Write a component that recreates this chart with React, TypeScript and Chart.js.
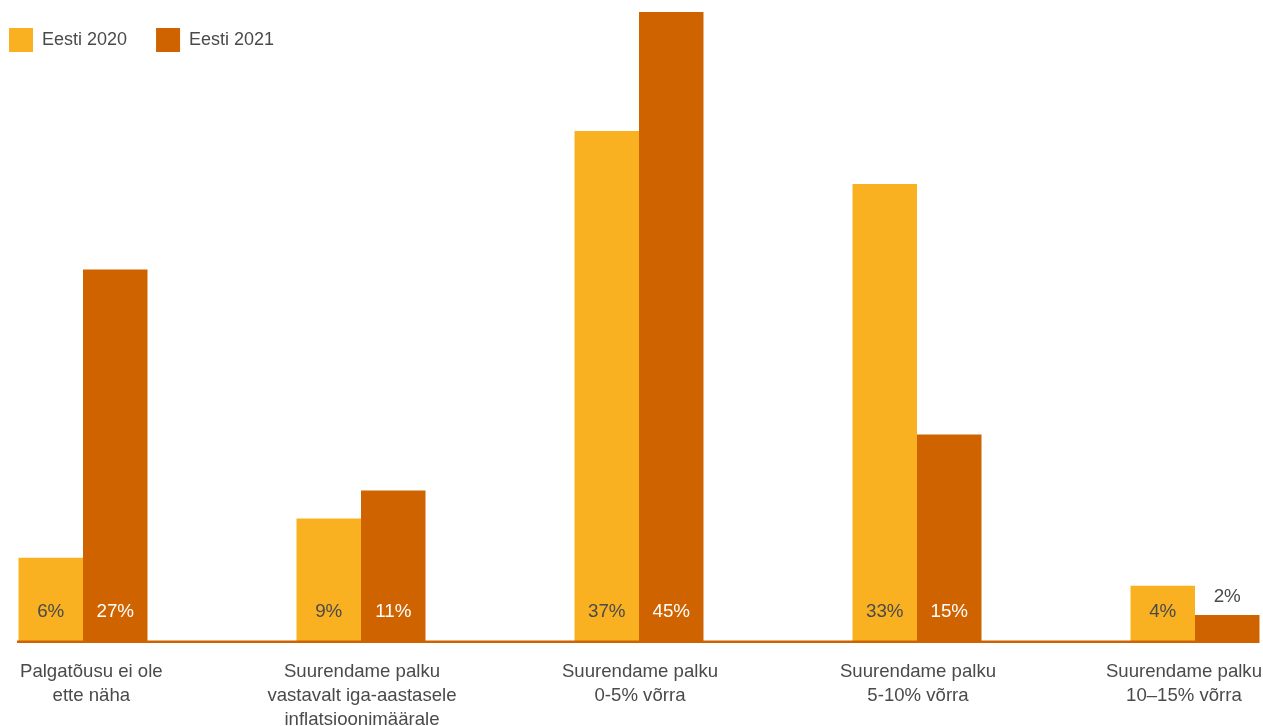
import React, { useEffect, useRef } from "react";
import { Chart, registerables } from "chart.js";

Chart.register(...registerables);

const categories: string[][] = [
  ["Palgatõusu ei ole", "ette näha"],
  ["Suurendame palku", "vastavalt iga-aastasele", "inflatsioonimäärale"],
  ["Suurendame palku", "0-5% võrra"],
  ["Suurendame palku", "5-10% võrra"],
  ["Suurendame palku", "10–15% võrra"],
];
const seriesNames = ["Eesti 2020", "Eesti 2021"];
const values2020 = [6.1, 8.9, 36.6, 32.8, 4.1];
const values2021 = [26.7, 10.9, 45.1, 14.9, 2.0];
const colors = ["#F9B122", "#CF6300"];
const labelColors = ["#4A4A4A", "#FFFFFF"];

const FONT = '"Liberation Sans", Arial, Helvetica, sans-serif';
const TEXT = "#4A4A4A";

const overlayPlugin = {
  id: "overlay",
  afterDatasetsDraw(chart: any) {
    const ctx = chart.ctx;
    const y = chart.scales.y;
    const x = chart.scales.x;
    const zero = y.getPixelForValue(0);
    ctx.save();
    // baseline
    ctx.strokeStyle = colors[1];
    ctx.lineWidth = 2.5;
    ctx.beginPath();
    ctx.moveTo(17, zero - 1.25);
    ctx.lineTo(1259, zero - 1.25);
    ctx.stroke();

    // value labels
    ctx.font = `18.8px ${FONT}`;
    ctx.textAlign = "center";
    ctx.textBaseline = "alphabetic";
    chart.data.datasets.forEach((ds: any, di: number) => {
      const meta = chart.getDatasetMeta(di);
      meta.data.forEach((bar: any, i: number) => {
        const v = ds.data[i];
        const txt = Math.round(v) + "%";
        const h = zero - bar.y;
        if (h > 45) {
          ctx.fillStyle = labelColors[di];
          ctx.fillText(txt, bar.x, zero - 26);
        } else {
          ctx.fillStyle = TEXT;
          ctx.fillText(txt, bar.x, bar.y - 13);
        }
      });
    });

    // category labels
    ctx.font = `18.6px ${FONT}`;
    ctx.fillStyle = TEXT;
    categories.forEach((lines, i) => {
      const px = x.getPixelForValue(i);
      const maxW = Math.max(...lines.map((l) => ctx.measureText(l).width));
      const cx = Math.min(Math.max(px + 1, 20 + maxW / 2), 1262 - maxW / 2);
      lines.forEach((l, li) => {
        ctx.fillText(l, cx, zero + 34 + li * 24);
      });
    });

    // legend
    ctx.font = `18px ${FONT}`;
    let lx = 9;
    ctx.textAlign = "left";
    ctx.textBaseline = "middle";
    chart.data.datasets.forEach((ds: any) => {
      ctx.fillStyle = ds.backgroundColor;
      ctx.fillRect(lx, 28, 24, 24);
      ctx.fillStyle = TEXT;
      ctx.fillText(ds.label, lx + 33, 40);
      lx += 33 + ctx.measureText(ds.label).width + 29;
    });
    ctx.restore();
  },
};

export default function App() {
  const ref = useRef<HTMLCanvasElement>(null);
  useEffect(() => {
    if (!ref.current) return;
    const chart = new Chart(ref.current, {
      type: "bar",
      data: {
        labels: categories.map((c) => c.join(" ")),
        datasets: [
          {
            label: seriesNames[0],
            data: values2020,
            backgroundColor: colors[0],
            clip: false,
            categoryPercentage: 0.464,
            barPercentage: 1,
          },
          {
            label: seriesNames[1],
            data: values2021,
            backgroundColor: colors[1],
            clip: false,
            categoryPercentage: 0.464,
            barPercentage: 1,
          },
        ],
      } as any,
      options: {
        responsive: false,
        animation: false,
        layout: { padding: { left: 83, right: 68, top: 12, bottom: 83 } },
        plugins: {
          legend: { display: false },
          tooltip: { enabled: false },
        },
        scales: {
          x: { display: false, offset: false },
          y: { display: false, min: 0, max: 45.1 },
        },
      },
      plugins: [overlayPlugin],
    });
    return () => chart.destroy();
  }, []);
  return (
    <div style={{ position: "absolute", left: 0, top: 0, width: 1263, height: 726 }}>
      <canvas ref={ref} width={1263} height={726} />
    </div>
  );
}
